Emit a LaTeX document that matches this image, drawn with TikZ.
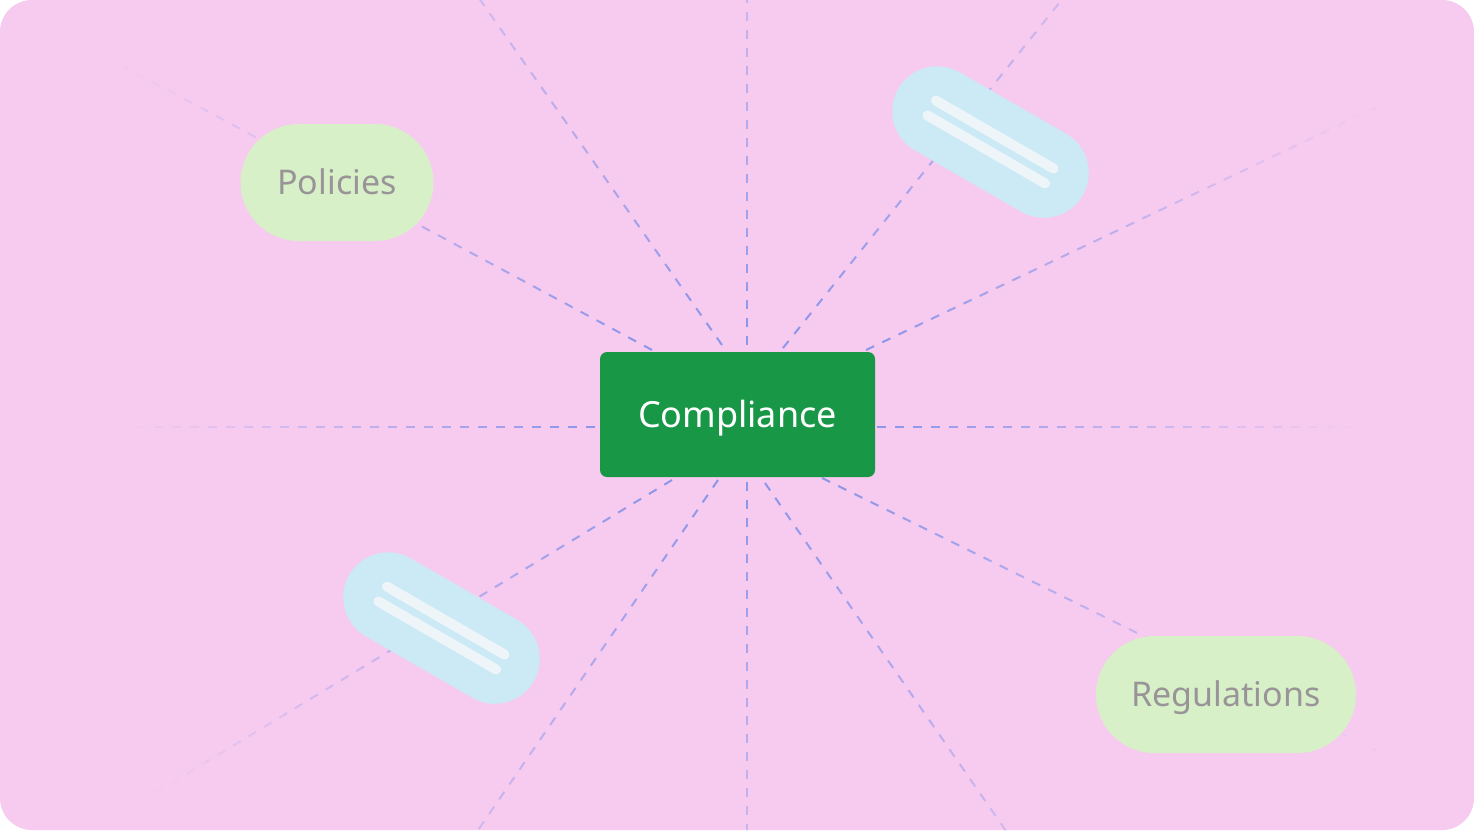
\documentclass[tikz,border=0pt]{standalone}
\usepackage{fontspec}
\setmainfont{Noto Sans}
\usetikzlibrary{calc,shapes.misc}
\definecolor{bgpink}{RGB}{247,203,239}
\definecolor{raycol}{RGB}{138,150,234}
\definecolor{boxgreen}{RGB}{24,152,71}
\definecolor{pillgreen}{RGB}{216,240,200}
\definecolor{pillblue}{RGB}{204,233,246}
\definecolor{stripewhite}{RGB}{238,245,248}
\definecolor{labelgrey}{RGB}{153,148,152}
\tikzset{
  ray/.style={draw=raycol, line width=2pt, dash pattern=on 9pt off 9pt},
  rayfade/.style={draw=bgpink, line width=5pt},
  pill/.style={rounded rectangle, fill=pillgreen, text=labelgrey,
    minimum height=117pt, inner xsep=0pt, text height=24.5pt, text depth=0pt,
    font=\fontsize{34}{40}\selectfont},
  capsule/.style={draw=pillblue, line width=90pt, line cap=round},
  stripe/.style={draw=stripewhite, line width=10pt, line cap=round},
  centerbox/.style={fill=boxgreen, text=white, rounded corners=7pt,
    minimum width=275pt, minimum height=125pt, text height=26pt, text depth=0pt,
    font=\fontsize{36}{43}\selectfont}
}
\begin{document}
\begin{tikzpicture}[x=1pt,y=-1pt]
  \useasboundingbox (0,0) rectangle (1474,830);
  %background
  \fill[white] (0,0) rectangle (1474,830);
  \fill[bgpink, rounded corners=32pt] (0,0) rectangle (1474,830);
  %ray end points
  \foreach \n/\sx/\sy/\ex/\ey in {1/747/345/747/-230, 2/722/345/350/-186,
      3/652/350/125/67, 4/595/427/130/427, 5/672/480/155/793,
      6/718/480/350/1017, 7/747/482/747/1060, 8/765/483/1135/1017,
      9/822/478/1375/750, 10/877/427/1355/427, 11/866/350/1375/108,
      12/783/348/1208/-183}{
    \coordinate (s\n) at (\sx,\sy);
    \coordinate (e\n) at (\ex,\ey);
  }
  %dashed rays, fading outwards
  \begin{scope}
    \clip[rounded corners=32pt] (0,0) rectangle (1474,830);
    \foreach \n in {1,...,12}{
      \draw[ray] (s\n) -- (e\n);
      \foreach \k in {0,...,19}{
        \pgfmathsetmacro\ta{\k/20}
        \pgfmathsetmacro\tb{(\k+1)/20}
        \pgfmathsetmacro\op{(\k+0.5)/20}
        \draw[rayfade, opacity=\op] ($(s\n)!\ta!(e\n)$) -- ($(s\n)!\tb!(e\n)$);
      }
    }
  \end{scope}
  %blue capsules
  \coordinate (capA1) at (937.2,111.3);
  \coordinate (capA2) at (1043.8,172.8);
  \coordinate (capB1) at (388.2,597.3);
  \coordinate (capB2) at (494.8,658.8);
  \draw[capsule] (capA1) -- (capA2);
  \draw[capsule] (capB1) -- (capB2);
  \draw[stripe] (935.9,100.6) -- (1053.6,168.6)
                (927.4,115.4) -- (1045.1,183.4);
  \draw[stripe] (386.9,586.6) -- (504.6,654.6)
                (378.4,601.4) -- (496.1,669.4);
  %labels
  \node[pill, minimum width=193pt] (policies) at (337,182.5) {Policies};
  \node[pill, minimum width=260pt] (regulations) at (1226,694.5) {Regulations};
  \node[centerbox] (compliance) at (737.5,414.5) {Compliance};
\end{tikzpicture}
\end{document}
